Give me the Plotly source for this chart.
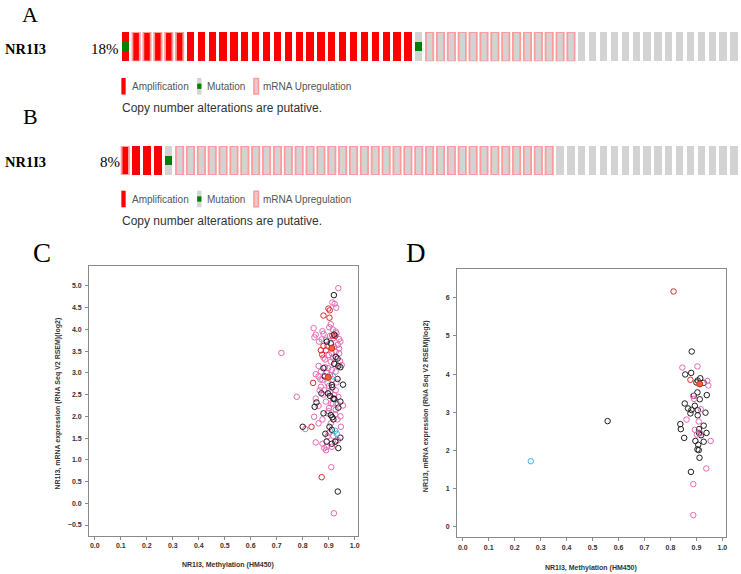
import plotly.graph_objects as go

W, H = 741, 574

# ---------------- data ----------------
gene = "NR1I3"
pct_A = "18%"
pct_B = "8%"
# Oncoprint sample codes: A=amplification, B=amplification+mutation, C=amplification+mRNA upregulation,
# M=mutation only, U=mRNA upregulation only, N=no alteration
oncoprint_A = ("B" + "CCCCC" + "AAAAAAAAAA" + "AAAAAAAAAA" + "A" + "M"
               + "UUUUUUUUUU" + "UUUU" + "NNNNNNNNNN" + "NNNNN")
oncoprint_B = ("C" + "AAA" + "M" + "UUUUUUUUUU" + "UUUUUUUUUU" + "UUUUUUUUUU" + "UUUUU"
               + "NNNNNNNNNN" + "NNNNNNN")
legend_labels = ["Amplification", "Mutation", "mRNA Upregulation"]
footnote = "Copy number alterations are putative."

x_title = "NR1I3, Methylation (HM450)"
y_title = "NR1I3, mRNA expression (RNA Seq V2 RSEM)(log2)"

# Panel C scatter
C_pink_x = [0.937, 0.914, 0.923, 0.929, 0.908, 0.842, 0.876, 0.916, 0.927, 0.850, 0.845, 0.930, 0.889,
            0.940, 0.945, 0.863, 0.873, 0.921, 0.927, 0.940, 0.901, 0.916, 0.944, 0.886, 0.908, 0.861,
            0.886, 0.898, 0.912, 0.927, 0.870, 0.850, 0.861, 0.876, 0.896, 0.901, 0.870, 0.927, 0.883,
            0.921, 0.937, 0.850, 0.889, 0.861, 0.901, 0.916, 0.927, 0.896, 0.844, 0.876, 0.934, 0.861,
            0.908, 0.810, 0.947, 0.896, 0.850, 0.876, 0.927, 0.883, 0.892, 0.910, 0.920, 0.718, 0.777,
            0.905, 0.918, 0.935, 0.895, 0.912, 0.880, 0.925, 0.940, 0.950, 0.893, 0.905, 0.915, 0.930,
            0.868, 0.880, 0.905, 0.920, 0.935, 0.910, 0.900, 0.925, 0.945, 0.955, 0.865, 0.900, 0.918,
            0.890, 0.912, 0.935, 0.880, 0.902]
C_pink_y = [4.95, 4.62, 4.59, 4.50, 4.12, 4.03, 3.96, 4.00, 3.95, 3.88, 3.82, 3.91, 3.76,
            3.78, 3.72, 3.72, 3.77, 3.60, 3.49, 3.56, 3.41, 3.35, 3.27, 3.31, 3.26, 3.16,
            3.13, 3.11, 3.07, 3.03, 3.03, 2.97, 2.92, 2.84, 2.76, 2.70, 2.68, 2.60, 2.60,
            2.49, 2.45, 2.41, 2.34, 2.24, 2.19, 2.29, 2.15, 2.07, 1.99, 1.93, 1.93, 1.84,
            1.84, 1.71, 1.76, 1.54, 1.40, 1.37, 1.42, 1.27, 1.30, 0.83, -0.23, 3.46, 2.45,
            3.85, 3.80, 3.65, 3.62, 3.45, 3.35, 3.20, 3.45, 3.18, 3.00, 2.95, 2.85, 2.78,
            2.85, 2.50, 2.55, 2.40, 2.28, 2.30, 2.12, 2.05, 2.00, 2.25, 2.60, 1.62, 1.55,
            1.22, 1.30, 1.45, 3.90, 4.05]
C_red_x = [0.899, 0.904, 0.880, 0.903, 0.914, 0.880, 0.870, 0.889, 0.875, 0.840, 0.834, 0.873, 0.925]
C_red_y = [4.48, 4.44, 4.32, 4.27, 3.86, 3.62, 3.52, 3.52, 3.42, 2.77, 1.76, 0.60, 3.85]
C_black_x = [0.920, 0.921, 0.893, 0.908, 0.927, 0.934, 0.921, 0.880, 0.937, 0.945, 0.885, 0.934,
             0.955, 0.912, 0.914, 0.897, 0.905, 0.872, 0.918, 0.853, 0.846, 0.945, 0.937, 0.880,
             0.908, 0.914, 0.918, 0.800, 0.903, 0.912, 0.887, 0.945, 0.892, 0.912, 0.925, 0.937,
             0.935, 0.922]
C_black_y = [4.79, 3.88, 3.72, 3.68, 3.37, 3.33, 3.21, 3.11, 3.16, 3.13, 2.92, 2.86,
             2.73, 2.72, 2.67, 2.53, 2.47, 2.53, 2.41, 2.32, 2.22, 2.34, 2.20, 2.07,
             2.03, 1.98, 1.93, 1.76, 1.76, 1.69, 1.60, 1.51, 1.42, 1.37, 1.42, 1.27,
             0.27, 2.40]
C_cyan_x = [0.916, 0.925, 0.931]
C_cyan_y = [2.92, 1.67, 1.60]
C_orange_x = [0.912, 0.898]
C_orange_y = [3.57, 2.90]

# Panel D scatter
D_black_x = [0.558, 0.882, 0.857, 0.880, 0.915, 0.905, 0.928, 0.904, 0.940, 0.890, 0.913, 0.855,
             0.868, 0.881, 0.894, 0.905, 0.877, 0.905, 0.935, 0.838, 0.840, 0.910, 0.910, 0.928,
             0.939, 0.853, 0.896, 0.907, 0.904, 0.909, 0.928, 0.912, 0.879, 0.918, 0.900]
D_black_y = [2.77, 4.59, 3.99, 4.03, 3.89, 3.83, 3.77, 3.52, 3.45, 3.43, 3.34, 3.23,
             3.10, 3.06, 3.17, 3.06, 2.97, 2.92, 2.99, 2.69, 2.56, 2.56, 2.46, 2.65,
             2.46, 2.33, 2.25, 2.15, 2.03, 2.01, 2.23, 1.81, 1.44, 2.40, 3.78]
D_pink_x = [0.846, 0.904, 0.942, 0.946, 0.887, 0.891, 0.917, 0.909, 0.862, 0.894, 0.902, 0.955,
            0.938, 0.888, 0.888, 0.915]
D_pink_y = [4.17, 4.20, 3.82, 3.70, 3.43, 3.35, 3.08, 2.76, 2.81, 2.54, 2.42, 2.25,
            1.53, 1.12, 0.31, 2.45]
D_red_x = [0.812, 0.877]
D_red_y = [6.16, 3.85]
D_cyan_x = [0.262]
D_cyan_y = [1.72]
D_orange_x = [0.913]
D_orange_y = [3.74]

C_yticks = [-0.5, 0.0, 0.5, 1.0, 1.5, 2.0, 2.5, 3.0, 3.5, 4.0, 4.5, 5.0]
D_yticks = [0, 1, 2, 3, 4, 5, 6]
x_ticks = [0.0, 0.1, 0.2, 0.3, 0.4, 0.5, 0.6, 0.7, 0.8, 0.9, 1.0]

# ---------------- colours ----------------
GREY = "#D3D3D3"
RED = "#FF0000"
PINK_OUT = "#FF9B9B"
GREEN = "#008000"
SC_PINK = "#E46AB4"
SC_RED = "#D42A2A"
SC_BLACK = "#1E1E1E"
SC_CYAN = "#35B6E6"
SC_ORANGE = "#F2622A"


def px(x):
    return x / W


def py(y):
    return 1 - y / H


fig = go.Figure()


def onco(codes, xa, ya):
    grey = [i for i, c in enumerate(codes) if c in "MUN"]
    red = [i for i, c in enumerate(codes) if c in "ABC"]
    up = [i for i, c in enumerate(codes) if c in "CU"]
    mut = [i for i, c in enumerate(codes) if c in "BM"]
    common = dict(xaxis=xa, yaxis=ya, width=0.67, showlegend=False, hoverinfo="skip", cliponaxis=False)
    fig.add_trace(go.Bar(x=grey, y=[1] * len(grey), base=0,
                         marker=dict(color=GREY, line=dict(width=0)), **common))
    fig.add_trace(go.Bar(x=red, y=[1] * len(red), base=0,
                         marker=dict(color=RED, line=dict(width=0)), **common))
    fig.add_trace(go.Bar(x=up, y=[1] * len(up), base=0,
                         marker=dict(color="rgba(0,0,0,0)", line=dict(color=PINK_OUT, width=1.8)), **common))
    fig.add_trace(go.Bar(x=mut, y=[0.32] * len(mut), base=0.34,
                         marker=dict(color=GREEN, line=dict(width=0)), **common))


onco(oncoprint_A, "x", "y")
onco(oncoprint_B, "x2", "y2")


def scat(xs, ys, color, xa, ya, fill=None):
    if fill:
        m = dict(symbol="circle", size=6, color=fill, line=dict(color=color, width=1))
    else:
        m = dict(symbol="circle-open", size=5.5, color=color, line=dict(width=1))
    fig.add_trace(go.Scatter(x=xs, y=ys, mode="markers", marker=m, xaxis=xa, yaxis=ya,
                             showlegend=False, hoverinfo="skip"))


scat(C_pink_x, C_pink_y, SC_PINK, "x3", "y3")
scat(C_red_x, C_red_y, SC_RED, "x3", "y3")
scat(C_black_x, C_black_y, SC_BLACK, "x3", "y3")
scat(C_cyan_x, C_cyan_y, SC_CYAN, "x3", "y3")
scat(C_orange_x, C_orange_y, SC_RED, "x3", "y3", fill=SC_ORANGE)

scat(D_black_x, D_black_y, SC_BLACK, "x4", "y4")
scat(D_pink_x, D_pink_y, SC_PINK, "x4", "y4")
scat(D_red_x, D_red_y, SC_RED, "x4", "y4")
scat(D_cyan_x, D_cyan_y, SC_CYAN, "x4", "y4")
scat(D_orange_x, D_orange_y, SC_RED, "x4", "y4", fill=SC_ORANGE)

hidden = dict(visible=False, showgrid=False, zeroline=False, fixedrange=True)
onco_x = dict(domain=[px(120.15), 1.0], range=[-0.5, 56.46], **hidden)

tickfont = dict(size=7, family="Liberation Sans, Arial, sans-serif", color="#333", weight="bold")
axis_common = dict(showgrid=False, zeroline=False, showline=True, mirror=True, linecolor="#8a8a8a",
                   linewidth=1, ticks="outside", ticklen=3, tickcolor="#8a8a8a", tickfont=tickfont)

fig.update_layout(
    width=W, height=H, margin=dict(l=0, r=0, t=0, b=0),
    paper_bgcolor="white", plot_bgcolor="white",
    barmode="overlay", bargap=0, showlegend=False,
    xaxis=dict(anchor="y", **onco_x),
    yaxis=dict(anchor="x", domain=[py(61.3), py(32)], range=[0, 1], **hidden),
    xaxis2=dict(anchor="y2", **onco_x),
    yaxis2=dict(anchor="x2", domain=[py(175), py(146)], range=[0, 1], **hidden),
    xaxis3=dict(anchor="y3", domain=[px(89.3), px(359.3)], range=[-0.022, 1.014],
                tickvals=x_ticks, tickformat=".1f", **axis_common),
    yaxis3=dict(anchor="x3", domain=[py(535.7), py(266)], range=[-0.746, 5.46],
                tickvals=C_yticks, tickformat=".1f", ticklabelstandoff=2, **axis_common),
    xaxis4=dict(anchor="y4", domain=[px(458.3), px(727.7)], range=[-0.022, 1.013],
                tickvals=x_ticks, tickformat=".1f", **axis_common),
    yaxis4=dict(anchor="x4", domain=[py(537.3), py(269.3)], range=[-0.27, 6.74],
                tickvals=D_yticks, tickformat="d", ticklabelstandoff=2, **axis_common),
)

serif = "Liberation Serif, Times New Roman, serif"
sans = "Liberation Sans, Arial, sans-serif"
ann = []


def text(x, y, t, size, family, color="black", xanchor="center", bold=False, angle=0):
    ann.append(dict(x=px(x), y=py(y), xref="paper", yref="paper", text=("<b>%s</b>" % t) if bold else t,
                    showarrow=False, xanchor=xanchor, yanchor="middle", textangle=angle,
                    font=dict(size=size, family=family, color=color)))


# panel letters
text(30.5, 14.5, "A", 22, serif)
text(31, 116, "B", 22, serif)
text(42.5, 252.5, "C", 27, serif)
text(417.5, 252.5, "D", 27, serif)

# oncoprint labels
text(3, 48.8, gene, 14.5, serif, xanchor="left", bold=True)
text(3, 162, gene, 14.5, serif, xanchor="left", bold=True)
text(121, 48.8, pct_A, 15, serif, xanchor="right")
text(122, 162, pct_B, 15, serif, xanchor="right")

shapes = []


def rect(x0, y0, x1, y1, fill, line_color=None, lw=0):
    shapes.append(dict(type="rect", xref="paper", yref="paper", x0=px(x0), x1=px(x1), y0=py(y1), y1=py(y0),
                       fillcolor=fill, line=dict(color=line_color or fill, width=lw)))


for (gy0, gy1, ty, fy) in [(78, 94.5, 86.8, 108.2), (190.7, 207.3, 199.5, 221)]:
    rect(121.7, gy0, 126, gy1, RED)
    rect(197.7, gy0, 202, gy1, GREY)
    h = gy1 - gy0
    rect(197.7, gy0 + 0.34 * h, 202, gy0 + 0.66 * h, GREEN)
    rect(254.6, gy0 + 0.5, 259.2, gy1 - 0.5, "#E8C8C8", PINK_OUT, 1.5)
    text(130, ty, legend_labels[0], 10, sans, color="#555", xanchor="left")
    text(205.7, ty, legend_labels[1], 10, sans, color="#555", xanchor="left")
    text(261.7, ty, legend_labels[2], 10, sans, color="#555", xanchor="left")
    text(120.7, fy, footnote, 12, sans, color="#333", xanchor="left")

# scatter axis titles
text(228.3, 565, x_title, 7, sans, color="#333", bold=True)
text(592.8, 568, x_title, 7, sans, color="#333", bold=True)
text(57.7, 404, y_title, 7, sans, color="#333", bold=True, angle=-90)
text(427.3, 406, y_title, 7, sans, color="#333", bold=True, angle=-90)

fig.update_layout(annotations=ann, shapes=shapes)
fig.write_html("out.html",
               config={"displayModeBar": False, "staticPlot": True},
               post_script="document.body.style.margin='0';document.body.style.padding='0';"
                           "document.body.style.overflow='hidden';")
